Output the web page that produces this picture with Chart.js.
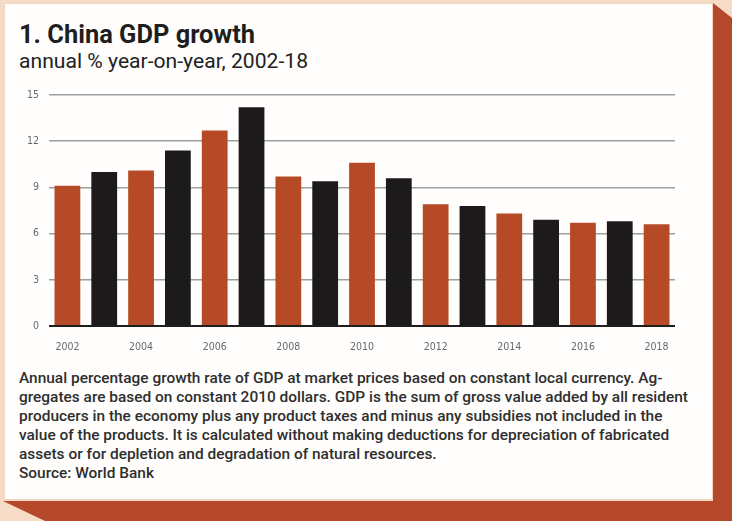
<!DOCTYPE html>
<html>
<head>
<meta charset="utf-8">
<script src="https://cdn.jsdelivr.net/npm/chart.js@4.4.0/dist/chart.umd.min.js"></script>
<style>
  html, body { margin:0; padding:0; }
  body { width:732px; height:521px; position:relative; overflow:hidden; background:#f6dcc6; font-family: Roboto, "Noto Sans", sans-serif; }
  #shadow { position:absolute; left:0; top:0; width:732px; height:521px; background:#b5472a;
    clip-path: polygon(713px 3px, 732px 18px, 732px 521px, 45px 521px, 3px 501px, 713px 501px); }
  #card { position:absolute; left:4px; top:3px; width:709px; height:497px; background:#fffefd; box-shadow: inset 0 0 0 1px #f3d6c0; }
  .txt { position:absolute; left:19px; white-space:nowrap; transform-origin:0 0; }
  #title { top:22px; font-size:25px; line-height:25px; font-weight:700; color:#1e1e1e; }
  #subtitle { top:51px; font-size:20px; line-height:20px; font-weight:400; color:#222; }
  #note { top:369px; font-size:14px; line-height:19px; font-weight:500; color:#2e2e2e; }
  #chartbox { position:absolute; left:0; top:85px; width:680px; height:275px; }
</style>
</head>
<body>
<div id="shadow"></div>
<div id="card"></div>
<div class="txt" id="title">1. China GDP growth</div>
<div class="txt" id="subtitle">annual % year-on-year, 2002-18</div>
<div class="txt" id="note">Annual percentage growth rate of GDP at market prices based on constant local currency. Ag-<br><span id="line2">gregates are based on constant 2010 dollars. GDP is the sum of gross value added by all resident</span><br>producers in the economy plus any product taxes and minus any subsidies not included in the<br>value of the products. It is calculated without making deductions for depreciation of fabricated<br>assets or for depletion and degradation of natural resources.<br>Source: World Bank</div>
<div id="chartbox"><canvas id="c" width="680" height="275"></canvas></div>
<script>
const years = ['2002','2003','2004','2005','2006','2007','2008','2009','2010','2011','2012','2013','2014','2015','2016','2017','2018'];
const growth = [9.1, 10.0, 10.1, 11.4, 12.7, 14.2, 9.7, 9.4, 10.6, 9.6, 7.9, 7.8, 7.3, 6.9, 6.7, 6.8, 6.6];
const yTicks = [0, 3, 6, 9, 12, 15];
const ORANGE = '#b64a27', BLACK = '#1c1a1a';

function fit(el, target) {
  el.style.display = 'inline-block';
  const w = el.getBoundingClientRect().width;
  el.style.transform = 'scaleX(' + (target / w) + ')';
}
fit(document.getElementById('title'), 236);
fit(document.getElementById('subtitle'), 289);
(function(){
  const note = document.getElementById('note');
  note.style.display = 'inline-block';
  const w2 = document.getElementById('line2').getBoundingClientRect().width;
  note.style.transform = 'scaleX(' + (669 / w2) + ')';
})();

const tickFont = { family: '"DejaVu Sans Condensed", "Liberation Sans Narrow", Roboto, sans-serif', size: 10.5 };

new Chart(document.getElementById('c'), {
  type: 'bar',
  data: {
    labels: years,
    datasets: [{
      data: growth,
      backgroundColor: years.map(y => (parseInt(y) % 2 === 0 ? ORANGE : BLACK)),
      borderWidth: 0,
      barPercentage: 0.7,
      categoryPercentage: 1.0
    }]
  },
  options: {
    responsive: false,
    animation: false,
    events: [],
    layout: { padding: { top: 10, right: 5, left: 0, bottom: 0 } },
    plugins: { legend: { display: false }, tooltip: { enabled: false } },
    scales: {
      x: {
        grid: { display: false },
        border: { display: false },
        ticks: {
          autoSkip: false, maxRotation: 0, minRotation: 0,
          color: '#6a6a6a', font: tickFont, padding: 7,
          callback: function(v, i) { const l = years[i]; return parseInt(l) % 2 === 0 ? l : ''; }
        },
        afterFit: s => { s.height = 34; }
      },
      y: {
        min: 0, max: 15,
        afterBuildTicks: s => { s.ticks = yTicks.map(v => ({ value: v })); },
        grid: {
          drawTicks: false,
          color: c => (c.tick && c.tick.value === 0 ? '#1e1e1e' : '#9e9e9e'),
          lineWidth: c => (c.tick && c.tick.value === 0 ? 2 : 1.5)
        },
        border: { display: false },
        ticks: { color: '#6a6a6a', font: tickFont, padding: 10 },
        afterFit: s => { s.width = 49; s.paddingTop = 0; s.paddingBottom = 0; }
      }
    }
  }
});
</script>
</body>
</html>
